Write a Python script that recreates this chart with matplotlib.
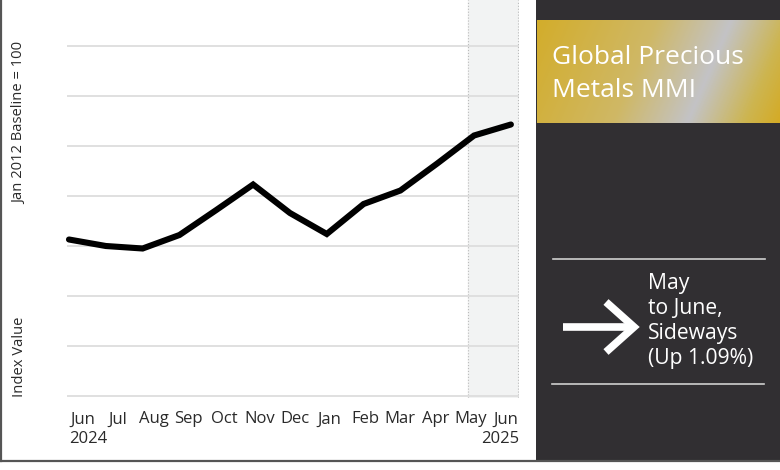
import matplotlib
matplotlib.use('Agg')
import matplotlib.pyplot as plt
import numpy as np
from matplotlib.colors import LinearSegmentedColormap
from matplotlib.lines import Line2D
import matplotlib.transforms as mtransforms

plt.rcParams['font.family'] = ['Open Sans', 'DejaVu Sans']

# index values (no y scale shown on the chart, relative units)
months = ['Jun', 'Jul', 'Aug', 'Sep', 'Oct', 'Nov', 'Dec', 'Jan', 'Feb', 'Mar', 'Apr', 'May', 'Jun']
values = [31.3, 30.0, 29.5, 32.2, 37.2, 42.3, 36.6, 32.4, 38.4, 41.1, 46.5, 52.1, 54.3]
year_start = '2024'
year_end = '2025'
grid_levels = [0, 10, 20, 30, 40, 50, 60, 70]

title = 'Global Precious\nMetals MMI'
change_text = 'May\nto June,\nSideways\n(Up 1.09%)'

W, H = 780, 470
fig = plt.figure(figsize=[W / 100, H / 100], dpi=100)
fig.patch.set_facecolor('white')

def px(x0, y0, x1, y1):
    # pixel box (top-left origin) -> figure fraction rect
    return [x0 / W, 1 - y1 / H, (x1 - x0) / W, (y1 - y0) / H]

# ---- main chart
ax = fig.add_axes(px(67, 0, 519, 397.5))
x = np.arange(len(values))
ax.set_xlim(-0.054, 12.22)
ax.set_ylim(-0.3, 79.2)
ax.axvspan(10.83, 12.22, color='#f2f3f3', zorder=0)
ax.axvline(10.83, color='#bbbbbb', lw=0.8, ls=':', zorder=1)
ax.axvline(12.2, color='#bbbbbb', lw=0.8, ls=':', zorder=1)
for g in grid_levels:
    ax.axhline(g, color='#dddddd', lw=1.3, zorder=1)
ax.plot(x, values, color='black', lw=4.4, solid_capstyle='round',
        solid_joinstyle='miter', clip_on=False, zorder=3)

ax.set_xticks(np.linspace(0.38, 11.87, len(months)))
ax.set_xticklabels(months, fontsize=12, color='#2a2a2a')
ax.tick_params(axis='x', length=0, pad=10)
ax.set_yticks([])
for s in ax.spines.values():
    s.set_visible(False)

trans = mtransforms.blended_transform_factory(ax.transData, ax.transAxes)
ax.text(0, -0.115, year_start, transform=trans, fontsize=12, color='#2a2a2a',
        ha='left', va='baseline')
ax.text(1, -0.115, year_end, transform=ax.transAxes, fontsize=12, color='#2a2a2a',
        ha='right', va='baseline')

fig.text(20 / W, 1 - 123 / H, 'Jan 2012 Baseline = 100', rotation=90,
         ha='center', va='center', fontsize=10.6, color='#2a2a2a')
fig.text(20 / W, 1 - 357 / H, 'Index Value', rotation=90,
         ha='center', va='center', fontsize=10.6, color='#2a2a2a')

# left panel frame
fig.add_artist(Line2D([1 / W, 1 / W], [1 - 461 / H, 1], color='#555555', lw=1.6))
fig.add_artist(Line2D([0, 1], [1 - 461 / H, 1 - 461 / H], color='#555555', lw=1.6))

# ---- right panel
pan = fig.add_axes(px(536, 0, 780, 461))
pan.set_facecolor('#312f32')
pan.set_xticks([])
pan.set_yticks([])
for s in pan.spines.values():
    s.set_visible(False)

# gold / silver gradient box
gold = LinearSegmentedColormap.from_list('gold', [
    (0.0, '#d3ad2b'), (0.42, '#cfb866'), (0.68, '#c3c3c6'), (0.88, '#cdb550'), (1.0, '#d4ab26')])
gx, gy = np.meshgrid(np.linspace(0, 1, 244), np.linspace(0, 1, 103))
grad = (gx + 0.18 * gy) / 1.18
pan.imshow(grad, cmap=gold, extent=[537, 780, 123, 20], aspect='auto', zorder=1)
pan.text(552, 45, title, color='white', fontsize=19, ha='left',
         va='top', linespacing=1.42, zorder=2)
pan.set_xlim(536, 780)
pan.set_ylim(461, 0)

pan.plot([553, 765], [259, 259], color='#cfcfcf', lw=1.2)
pan.plot([552, 764], [384, 384], color='#cfcfcf', lw=1.2)

# arrow
pan.plot([563, 633], [327, 327], color='white', lw=5.5, solid_capstyle='butt')
pan.plot([606, 634, 606], [302, 327, 352], color='white', lw=5.5,
         solid_capstyle='butt', solid_joinstyle='miter')

pan.text(648, 273, change_text, color='white', fontsize=15.2, ha='left',
         va='top', linespacing=1.25)

fig.savefig('out.png', dpi=100, facecolor='white')
